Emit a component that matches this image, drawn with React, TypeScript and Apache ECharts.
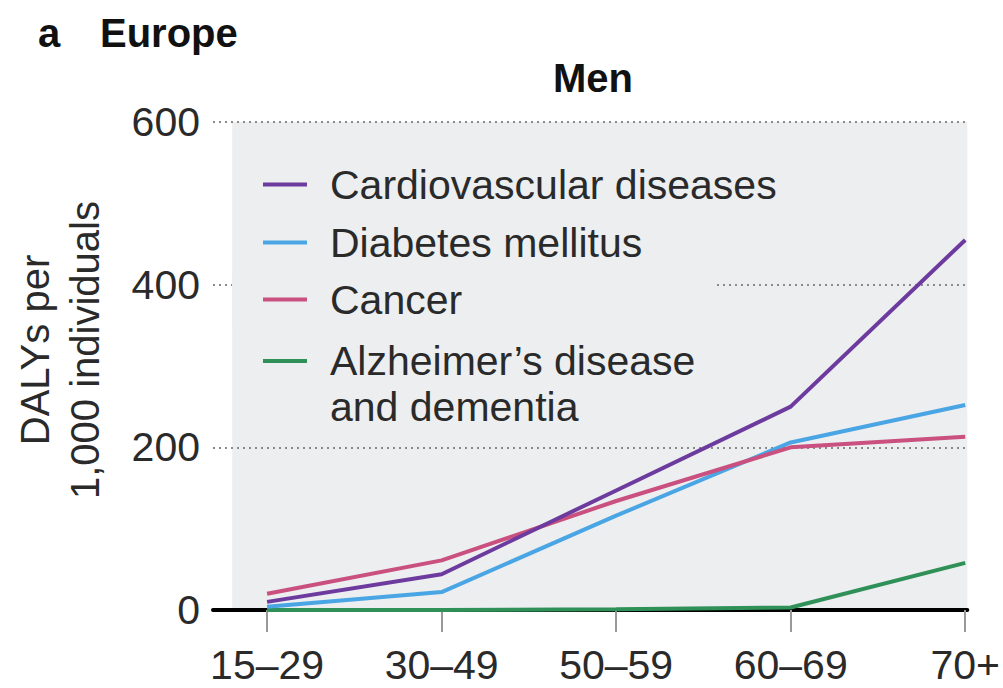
import React, { useEffect, useRef } from "react";
import * as echarts from "echarts";

const categories = ["15–29", "30–49", "50–59", "60–69", "70+"];
const cardiovascular = [10, 44, 147, 250, 455];
const diabetes = [4, 22, 116, 206, 252];
const cancer = [20, 61, 134, 200, 213];
const alzheimer = [0, 0, 1, 3, 58];
const yTicks = [0, 200, 400, 600];
const seriesNames = [
  "Cardiovascular diseases",
  "Diabetes mellitus",
  "Cancer",
  "Alzheimer’s disease\nand dementia",
];
const seriesValues = [cardiovascular, diabetes, cancer, alzheimer];
const seriesColors = ["#6d3a9e", "#4aa5e4", "#c9507f", "#2f9058"];

const FONT = "'Liberation Sans', Arial, Helvetica, sans-serif";
const TEXT = "#2a2a2a";
const BG = "#eceef0";
const X_MIN = -0.31;
const X_MAX = 4.012;
const LEG_FS = 41;
const LEG_LH = 40;
const LEG_LH_MULTI = 46;

export default function App() {
  const ref = useRef<HTMLDivElement>(null);
  useEffect(() => {
    if (!ref.current) return;
    const chart = echarts.init(ref.current, undefined, { renderer: "svg" });
    const drawOrder = [3, 1, 2, 0];
    const series = drawOrder.map((i) => ({
      type: "line",
      name: seriesNames[i],
      color: seriesColors[i],
      symbol: "none",
      lineStyle: { width: 4, color: seriesColors[i] },
      data: seriesValues[i].map((v, k) => [k, v]),
    }));
    const legendTops = [164, 222, 273, 292];
    const legends = seriesNames.map((name, i) => {
      const base: any = {
        orient: "vertical",
        left: 263,
        top: legendTops[i],
        padding: 0,
        icon: "rect",
        itemWidth: 44,
        itemHeight: 4,
        selectedMode: false,
        data: [name],
        textStyle: {
          fontFamily: FONT,
          fontSize: LEG_FS,
          color: TEXT,
          lineHeight: LEG_LH,
          padding: [0, 0, 0, 18],
        },
      };
      if (i === 2) {
        base.left = 232;
        base.padding = [6, 253, 6, 31];
        base.backgroundColor = BG;
      }
      if (i === 3) {
        // leading empty line keeps the icon level with the first text line
        base.formatter = (n: string) => "\n" + n;
        base.textStyle = { ...base.textStyle, lineHeight: LEG_LH_MULTI };
      }
      return base;
    });
    chart.setOption({
      animation: false,
      grid: { left: 213, right: 35, top: 122, bottom: 78 },
      legend: legends,
      xAxis: {
        type: "value",
        min: X_MIN,
        max: X_MAX,
        splitLine: { show: false },
        axisLine: { show: true, onZero: false, lineStyle: { color: "#000", width: 4 } },
        axisTick: {
          show: true,
          customValues: categories.map((_, i) => i),
          length: 22,
          lineStyle: { color: "#999", width: 2 },
        },
        axisLabel: {
          customValues: categories.map((_, i) => i),
          formatter: (v: number) => categories[Math.round(v)] ?? "",
          fontFamily: FONT,
          fontSize: 41,
          color: TEXT,
          margin: 34,
        },
      },
      yAxis: {
        type: "value",
        min: yTicks[0],
        max: yTicks[yTicks.length - 1],
        interval: 200,
        axisLine: { show: false },
        axisTick: { show: false },
        axisLabel: { fontFamily: FONT, fontSize: 41, color: TEXT, margin: 13 },
        splitLine: {
          show: true,
          lineStyle: { color: "#8a8a8a", width: 2, type: [2, 4] },
        },
      },
      series,
    });
    const p0 = chart.convertToPixel({ gridIndex: 0 } as any, [-0.2, yTicks[yTicks.length - 1]]) as number[];
    const p1 = chart.convertToPixel({ gridIndex: 0 } as any, [X_MAX, 0]) as number[];
    chart.setOption({
      graphic: [
        {
          type: "rect",
          z: -10,
          silent: true,
          shape: { x: p0[0], y: p0[1], width: p1[0] - p0[0], height: p1[1] - p0[1] },
          style: { fill: BG },
        },
        {
          type: "text",
          x: 38,
          y: 33,
          style: { text: "a", font: `bold 40px ${FONT}`, fill: "#111", verticalAlign: "middle" },
        },
        {
          type: "text",
          x: 100,
          y: 33,
          style: { text: "Europe", font: `bold 40px ${FONT}`, fill: "#111", verticalAlign: "middle" },
        },
        {
          type: "text",
          x: 593,
          y: 78,
          style: { text: "Men", font: `bold 40px ${FONT}`, fill: "#111", align: "center", verticalAlign: "middle" },
        },
        {
          type: "text",
          x: 60,
          y: 350,
          rotation: Math.PI / 2,
          style: {
            text: "DALYs per\n1,000 individuals",
            font: `40px ${FONT}`,
            lineHeight: 50,
            fill: TEXT,
            align: "center",
            verticalAlign: "middle",
          },
        },
      ],
    });
    return () => chart.dispose();
  }, []);
  return (
    <div
      ref={ref}
      style={{ position: "fixed", left: 0, top: 0, width: 1003, height: 688, background: "#fff" }}
    />
  );
}
